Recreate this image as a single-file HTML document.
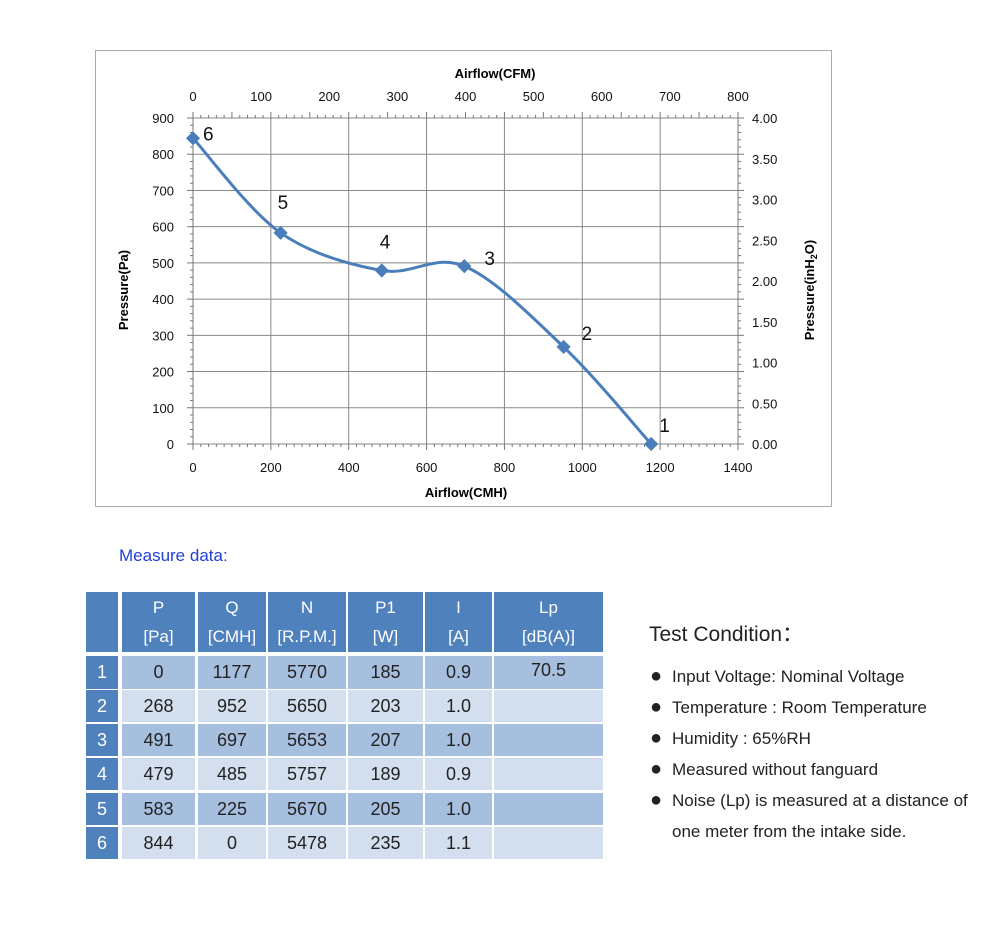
<!DOCTYPE html>
<html><head><meta charset="utf-8"><style>
body{margin:0;background:#fff;font-family:"Liberation Sans",sans-serif;}
#wrap{position:relative;width:1000px;height:933px;overflow:hidden;}
.c{position:absolute;display:flex;align-items:center;justify-content:center;font-size:18px;color:#222;box-sizing:border-box;}
.h{background:#4f81bd;color:#fff;flex-direction:column;line-height:29px;font-size:17px;}
.rl{background:#4f81bd;color:#fff;}
.o{background:#a7bfdf;}
.e{background:#d3dfee;}
.tc{position:absolute;font-size:17px;color:#222;}
.b{display:inline-block;width:22px;font-size:20px;}
</style></head><body><div id="wrap">
<svg id="chart" width="1000" height="520" style="position:absolute;left:0;top:0" font-family="Liberation Sans, sans-serif"></svg>
<div class="tc" style="left:119px;top:546px;color:#1f3fd6;font-size:17px">Measure data:</div>
<div id="table"></div>
<div class="tc" style="left:649px;top:618px;font-size:21px">Test Condition：</div>
<div class="tc" style="left:650px;top:661px;line-height:31px">
<div><span class="b">●</span>Input Voltage: Nominal Voltage</div>
<div><span class="b">●</span>Temperature : Room Temperature</div>
<div><span class="b">●</span>Humidity : 65%RH</div>
<div><span class="b">●</span>Measured without fanguard</div>
<div><span class="b">●</span>Noise (Lp) is measured at a distance of<br><span class="b"></span>one meter from the intake side.</div>
</div>
</div>
<script>
const pointIds=[1,2,3,4,5,6];
const airflowCMH=[1177,952,697,485,225,0];
const pressurePa=[0,268,491,479,583,844];
const rpm=[5770,5650,5653,5757,5670,5478];
const powerW=[185,203,207,189,205,235];
const currentA=["0.9","1.0","1.0","0.9","1.0","1.1"];
const noiseLp=["70.5","","","","",""];
const xTicks=[0,200,400,600,800,1000,1200,1400];
const yTicks=[0,100,200,300,400,500,600,700,800,900];
const cfmTicks=[0,100,200,300,400,500,600,700,800];
const inH2OTicks=["0.00","0.50","1.00","1.50","2.00","2.50","3.00","3.50","4.00"];

const NS="http://www.w3.org/2000/svg";
const svg=document.getElementById('chart');
const X0=193,X1=738,Y0=444,Y1=118;
const xs=v=>X0+v/1400*(X1-X0);
const ys=v=>Y0-v/900*(Y0-Y1);
const xc=v=>X0+v/800*(X1-X0);
const yr=v=>Y0-v/4*(Y0-Y1);
function el(t,a,txt){const e=document.createElementNS(NS,t);for(const k in a)e.setAttribute(k,a[k]);if(txt!==undefined)e.textContent=txt;svg.appendChild(e);return e;}
const fr=el('rect',{x:95.5,y:50.5,width:736,height:456,fill:'#fff',stroke:'#aaa'});


xTicks.forEach(v=>{const l=el('line',{x1:xs(v),x2:xs(v),y1:Y1,y2:Y0,stroke:'#888','stroke-width':1});


const t=el('text',{x:xs(v),y:472,'text-anchor':'middle','font-size':13,fill:'#111'},v);

});
yTicks.forEach(v=>{const l=el('line',{x1:X0,x2:X1,y1:ys(v),y2:ys(v),stroke:'#888','stroke-width':1});


const t=el('text',{x:174,y:ys(v)+5,'text-anchor':'end','font-size':13,fill:'#111'},v);

});
cfmTicks.forEach(v=>{const t=el('text',{x:xc(v),y:101,'text-anchor':'middle','font-size':13,fill:'#111'},v);

});
inH2OTicks.forEach(v=>{const t=el('text',{x:752,y:yr(+v)+5,'font-size':13,fill:'#111'},v);

});
for(let i=0;i<=70;i++){const x=X0+i*(X1-X0)/70;el('line',{x1:x,x2:x,y1:Y0,y2:Y0+(i%10?3:6),stroke:'#777'});el('line',{x1:x,x2:x,y1:Y1,y2:Y1-(i%5?3:6),stroke:'#777'});}
for(let i=0;i<=45;i++){const y=Y1+i*(Y0-Y1)/45;el('line',{x1:X0,x2:X0-(i%5?3:6),y1:y,y2:y,stroke:'#777'});el('line',{x1:X1,x2:X1+(i%5?3:6),y1:y,y2:y,stroke:'#777'});}
el('line',{x1:X0,x2:X0,y1:Y1,y2:Y0,stroke:'#777'});el('line',{x1:X1,x2:X1,y1:Y1,y2:Y0,stroke:'#777'});
const a1=el('text',{x:466,y:497,'text-anchor':'middle','font-size':13,'font-weight':'bold'},'Airflow(CMH)');

const a2=el('text',{x:495,y:78,'text-anchor':'middle','font-size':13,'font-weight':'bold'},'Airflow(CFM)');

const a3=el('text',{x:128,y:290,'text-anchor':'middle','font-size':13,'font-weight':'bold',transform:'rotate(-90 128 290)'},'Pressure(Pa)');

const a4=el('text',{x:814,y:290,'text-anchor':'middle','font-size':13,'font-weight':'bold',transform:'rotate(-90 814 290)'});
a4.innerHTML='Pressure(inH<tspan font-size="9" dy="3">2</tspan><tspan dy="-3">O)</tspan>';

const pts=airflowCMH.map((q,i)=>[xs(q),ys(pressurePa[i])]).sort((a,b)=>a[0]-b[0]);
let d='M'+pts[0][0]+','+pts[0][1];
for(let i=0;i<pts.length-1;i++){const p0=pts[Math.max(0,i-1)],p1=pts[i],p2=pts[i+1],p3=pts[Math.min(pts.length-1,i+2)];
d+=` C${p1[0]+(p2[0]-p0[0])/6},${p1[1]+(p2[1]-p0[1])/6} ${p2[0]-(p3[0]-p1[0])/6},${p2[1]-(p3[1]-p1[1])/6} ${p2[0]},${p2[1]}`;}
const cv=el('path',{d:d,fill:'none',stroke:'#4a7ebb','stroke-width':3});

const lblOff=[[8,-12],[18,-7],[20,-1],[-2,-22],[-3,-24],[10,2]];
airflowCMH.forEach((q,i)=>{const x=xs(q),y=ys(pressurePa[i]);
const m=el('rect',{x:x-5,y:y-5,width:10,height:10,fill:'#4a7ebb',transform:`rotate(45 ${x} ${y})`});

const t=el('text',{x:x+lblOff[i][0],y:y+lblOff[i][1],'font-size':19,fill:'#111'},pointIds[i]);
});
const tb=document.getElementById('table');
const cols=[[86,118],[122,195],[198,266],[268,346],[348,423],[425,492],[494,603]];
const heads=[["",""],["P","[Pa]"],["Q","[CMH]"],["N","[R.P.M.]"],["P1","[W]"],["I","[A]"],["Lp","[dB(A)]"]];
const rows=[[656,689],[690,722],[724,756],[758,790],[793,825],[827,859]];
function cell(cls,c,y0,y1,html){const d=document.createElement('div');d.className='c '+cls;d.style.left=c[0]+'px';d.style.width=(c[1]-c[0])+'px';d.style.top=y0+'px';d.style.height=(y1-y0)+'px';d.innerHTML=html;tb.appendChild(d);return d;}
heads.forEach((h,j)=>{const d=cell('h',cols[j],592,652,h[0]?`<span>${h[0]}</span><span>${h[1]}</span>`:'');

});
pointIds.forEach((id,i)=>{const vals=[id,pressurePa[i],airflowCMH[i],rpm[i],powerW[i],currentA[i],noiseLp[i]];
vals.forEach((v,j)=>{const d=cell(j==0?'rl':(i%2?'e':'o'),cols[j],rows[i][0],rows[i][1],v);
if(j==6)d.style.alignItems='flex-start',d.style.paddingTop='4px';

});});
</script></body></html>
